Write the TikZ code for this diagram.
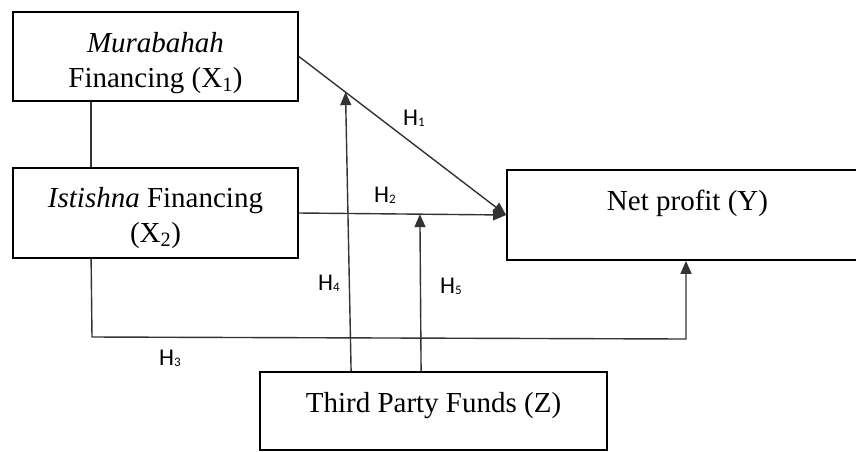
\documentclass[tikz,border=0pt]{standalone}
\usepackage{fontspec}
\setmainfont{Liberation Serif}
\newfontfamily\hfont{Carlito}
\usetikzlibrary{arrows.meta,calc}
\newcommand\hsb[1]{\raisebox{-1pt}{\fontsize{13}{14}\selectfont #1}}
\begin{document}
\begin{tikzpicture}[x=1pt,y=-1pt,
  box/.style={draw=black, line width=1.8pt, inner sep=0pt, rectangle},
  txt/.style={font=\fontsize{29}{35}\selectfont, anchor=base, inner sep=0pt},
  hlab/.style={font=\hfont\fontsize{24}{28}\selectfont, anchor=base, inner sep=0pt},
  conn/.style={draw=black!80, line width=1.4pt},
  arr/.style={conn, -{Triangle[length=13pt,width=11pt]}}]
\useasboundingbox (0,0) rectangle (856,451);
% boxes
\node[box, minimum width=285pt, minimum height=89pt] (x1) at (155.5,56.5) {};
\node[box, minimum width=285pt, minimum height=90pt] (x2) at (155.5,213) {};
\node[box, minimum width=363pt, minimum height=90pt] (ny) at (688.5,215) {};
\node[box, minimum width=347pt, minimum height=78pt] (z) at (433.5,411) {};
% texts
\node[txt] (x1a) at (155.5,52) {\textit{Murabahah}};
\node[txt] (x1b) at (155.5,87) {Financing (X\textsubscript{1})};
\node[txt] (x2a) at (155.5,207) {\textit{Istishna} Financing};
\node[txt] (x2b) at (155.5,242) {(X\textsubscript{2})};
\node[txt] (nyt) at (687.5,210) {Net profit (Y)};
\node[txt] (zt) at (433.5,412) {Third Party Funds (Z)};
% hypothesis labels
\node[hlab] (h1) at (414,125) {H\hsb{1}};
\node[hlab] (h2) at (385,202) {H\hsb{2}};
\node[hlab] (h3) at (170,365) {H\hsb{3}};
\node[hlab] (h4) at (329,290) {H\hsb{4}};
\node[hlab] (h5) at (451,293) {H\hsb{5}};
% helper coordinates
\coordinate (p1) at ($(x1.east)!0.225!(ny.west)$);
\coordinate (p2) at ($(x2.east)!0.584!(ny.west)$);
\coordinate (h3a) at (92,337);
\coordinate (h3b) at (686,339);
% connectors
\draw[conn] ([xshift=79pt]x1.south west) -- ([xshift=79pt]x2.north west);
\draw[arr] (x1.east) -- (ny.west);
\draw[arr] (x2.east) -- (ny.west);
\draw[arr] ([xshift=79pt]x2.south west) -- (h3a) -- (h3b) -- (h3b |- ny.south);
\draw[arr] ([xshift=92pt]z.north west) -- (p1);
\draw[arr] ([xshift=162pt]z.north west) -- (p2);
\end{tikzpicture}
\end{document}
